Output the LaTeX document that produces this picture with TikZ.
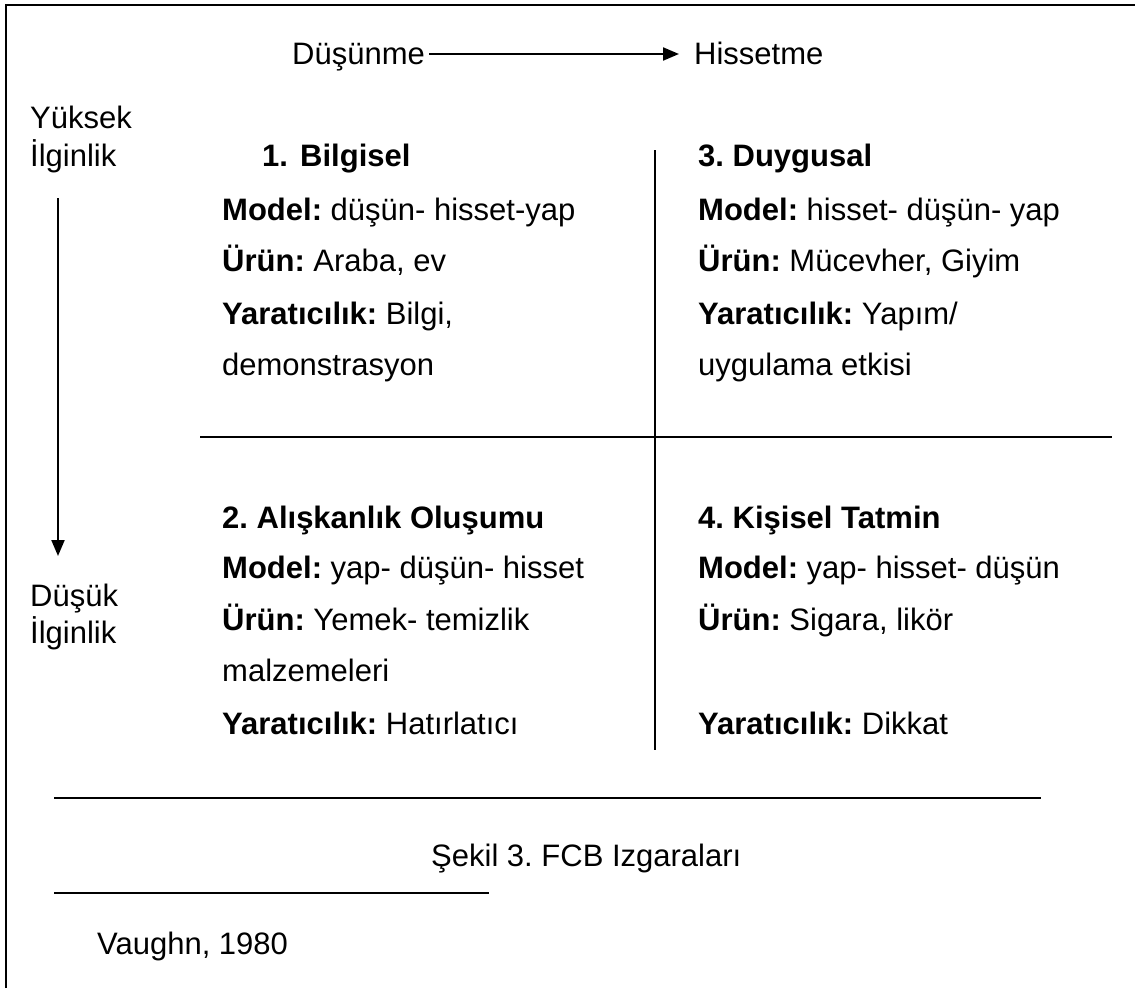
\documentclass[tikz,border=0pt]{standalone}
\usepackage{fontspec}
\setmainfont{Liberation Sans}
\usetikzlibrary{arrows.meta}
\frenchspacing
\begin{document}
\begin{tikzpicture}[x=1pt,y=-1pt,
  txt/.style={anchor=base west,inner sep=0pt,font=\fontsize{31}{37}\selectfont},
  rule/.style={line width=2pt,black},
  frame/.style={line width=2.5pt,black},
  arr/.style={line width=2pt,-{Triangle[length=16pt,width=13pt]}}]
\useasboundingbox (0,0) rectangle (1135,988);
% frame
\coordinate (fbl) at (6,988);
\coordinate (ftl) at (6,5);
\coordinate (ftr) at (1135,5);
\draw[frame] (fbl) -- (ftl) -- (ftr);

% top axis
\node[txt] (dus) at (292,64) {Düşünme};
\node[txt] (his) at (694,64) {Hissetme};
\coordinate (h1) at (429,54);
\coordinate (h2) at (679,54);
\draw[arr] (h1) -- (h2);

% left axis
\node[txt] (yuk) at (30,128) {Yüksek};
\node[txt] (ilg1) at (30,166) {İlginlik};
\node[txt] (dsk) at (30,606) {Düşük};
\node[txt] (ilg2) at (30,643) {İlginlik};
\coordinate (v1) at (58,198);
\coordinate (v2) at (58,556);
\draw[arr] (v1) -- (v2);

% grid lines
\coordinate (gv1) at (655,150);
\coordinate (gv2) at (655,750);
\coordinate (gh1) at (200,437);
\coordinate (gh2) at (1112,437);
\draw[rule] (gv1) -- (gv2);
\draw[rule] (gh1) -- (gh2);

% quadrant 1
\node[txt] (q1n) at (262,166) {\textbf{1.}};
\node[txt] (q1h) at (300,166) {\textbf{Bilgisel}};
\node[txt] (q1a) at (222,220) {\textbf{Model:} düşün- hisset-yap};
\node[txt] (q1b) at (222,271) {\textbf{Ürün:} Araba, ev};
\node[txt] (q1c) at (222,324) {\textbf{Yaratıcılık:} Bilgi,};
\node[txt] (q1d) at (222,375) {demonstrasyon};

% quadrant 3
\node[txt] (q3h) at (698,166) {\textbf{3. Duygusal}};
\node[txt] (q3a) at (698,220) {\textbf{Model:} hisset- düşün- yap};
\node[txt] (q3b) at (698,271) {\textbf{Ürün:} Mücevher, Giyim};
\node[txt] (q3c) at (698,324) {\textbf{Yaratıcılık:} Yapım/};
\node[txt] (q3d) at (698,375) {uygulama etkisi};

% quadrant 2
\node[txt] (q2h) at (222,528) {\textbf{2. Alışkanlık Oluşumu}};
\node[txt] (q2a) at (222,578) {\textbf{Model:} yap- düşün- hisset};
\node[txt] (q2b) at (222,630) {\textbf{Ürün:} Yemek- temizlik};
\node[txt] (q2c) at (222,681) {malzemeleri};
\node[txt] (q2d) at (222,734) {\textbf{Yaratıcılık:} Hatırlatıcı};

% quadrant 4
\node[txt] (q4h) at (698,528) {\textbf{4. Kişisel Tatmin}};
\node[txt] (q4a) at (698,578) {\textbf{Model:} yap- hisset- düşün};
\node[txt] (q4b) at (698,630) {\textbf{Ürün:} Sigara, likör};
\node[txt] (q4d) at (698,734) {\textbf{Yaratıcılık:} Dikkat};

% caption area
\coordinate (l1a) at (54,798);
\coordinate (l1b) at (1041,798);
\draw[rule] (l1a) -- (l1b);
\node[txt] (cap) at (431,866) {Şekil 3. FCB Izgaraları};
\coordinate (l2a) at (54,893);
\coordinate (l2b) at (489,893);
\draw[rule] (l2a) -- (l2b);
\node[txt] (src) at (97,954) {Vaughn, 1980};
\end{tikzpicture}
\end{document}
